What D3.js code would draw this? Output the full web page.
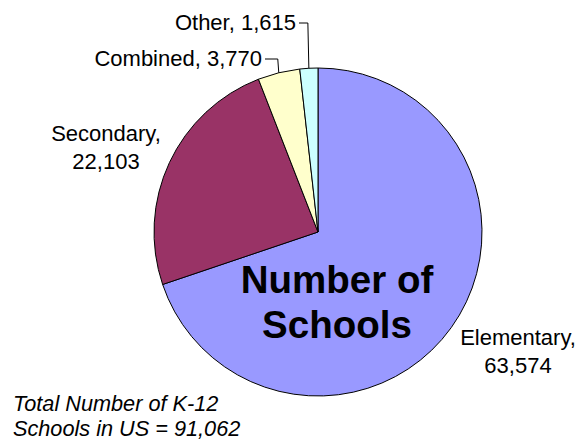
<!DOCTYPE html>
<html>
<head>
<meta charset="utf-8">
<script src="https://cdn.jsdelivr.net/npm/d3@7"></script>
<style>
  html, body { margin: 0; padding: 0; background: #fff; }
  svg { display: block; font-family: "Liberation Sans", Arial, sans-serif; }
</style>
</head>
<body>
<svg id="chart" width="579" height="441"></svg>
<script>
// School counts by level
const categories = ["Elementary", "Secondary", "Combined", "Other"];
const values = [63574, 22103, 3770, 1615];
const colors = ["#9999FF", "#993366", "#FFFFCC", "#CCFFFF"];
const totalLabel = ["Total Number of K-12", "Schools in US = 91,062"];
const centerTitle = ["Number of", "Schools"];

const svg = d3.select("#chart");
const cx = 318, cy = 232, radius = 164;
const fmt = d3.format(",");

const data = categories.map((c, i) => ({ name: c, value: values[i], color: colors[i] }));

const pie = d3.pie().value(d => d.value).sort(null);
const arc = d3.arc().innerRadius(0).outerRadius(radius);
const arcs = pie(data);

const g = svg.append("g").attr("transform", `translate(${cx},${cy})`);

g.selectAll("path.slice")
  .data(arcs)
  .join("path")
  .attr("class", "slice")
  .attr("d", arc)
  .attr("fill", d => d.data.color)
  .attr("stroke", "#000")
  .attr("stroke-width", 1)
  .attr("stroke-linejoin", "round");

// Label layout: absolute text positions; leader lines for small slices
const labelLayout = {
  Elementary: { x: 518, y: 345, anchor: "middle", lines: 2 },
  Secondary:  { x: 106, y: 141, anchor: "middle", lines: 2 },
  Combined:   { x: 262, y: 66,  anchor: "end", lines: 1, leader: true },
  Other:      { x: 296, y: 30,  anchor: "end", lines: 1, leader: true }
};

const lineGap = 28;
const labels = svg.append("g").attr("font-size", 22).attr("fill", "#000");

arcs.forEach(a => {
  const L = labelLayout[a.data.name];
  const txt = labels.append("text")
    .attr("x", L.x).attr("y", L.y)
    .attr("text-anchor", L.anchor);
  if (L.lines === 2) {
    txt.append("tspan").attr("x", L.x).attr("y", L.y).text(a.data.name + ",");
    txt.append("tspan").attr("x", L.x).attr("y", L.y + lineGap).text(fmt(a.data.value));
  } else {
    txt.text(a.data.name + ", " + fmt(a.data.value));
  }
  if (L.leader) {
    const mid = (a.startAngle + a.endAngle) / 2;
    const px = cx + radius * Math.sin(mid);
    const py = cy - radius * Math.cos(mid);
    const ly = L.y - 7;
    const pts = [[L.x + 3, ly], [px - 1, ly], [px, py]];
    svg.append("path")
      .attr("d", d3.line()(pts))
      .attr("fill", "none")
      .attr("stroke", "#000")
      .attr("stroke-width", 1);
  }
});

// Title inside the pie
svg.append("text")
  .attr("x", 337).attr("y", 293)
  .attr("text-anchor", "middle")
  .attr("font-size", 38.5).attr("font-weight", "bold")
  .selectAll("tspan")
  .data(centerTitle)
  .join("tspan")
  .attr("x", 337)
  .attr("y", (d, i) => 293 + i * 45)
  .text(d => d);

// Total note, bottom left
svg.append("text")
  .attr("font-size", 21.7).attr("font-style", "italic")
  .selectAll("tspan")
  .data(totalLabel)
  .join("tspan")
  .attr("x", 13)
  .attr("y", (d, i) => 411 + i * 25)
  .text(d => d);
</script>
</body>
</html>
